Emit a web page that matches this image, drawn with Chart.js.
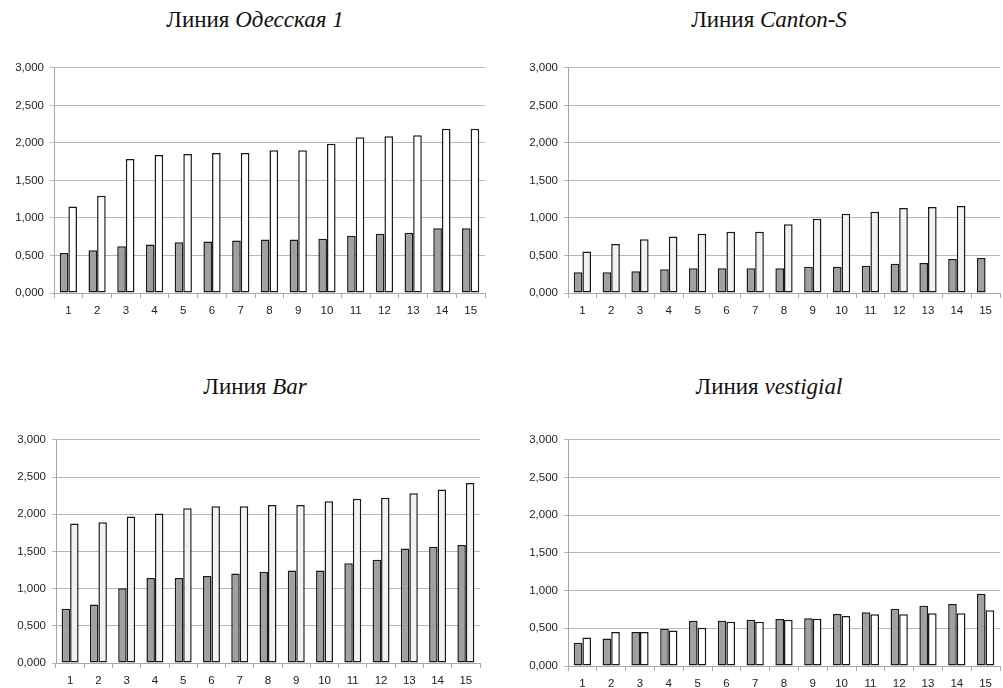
<!DOCTYPE html>
<html lang="ru">
<head>
  <meta charset="UTF-8">
  <title>Линии — четыре панели</title>
  <script src="https://cdn.jsdelivr.net/npm/chart.js"></script>
  <style>
    html, body { margin: 0; padding: 0; background: #fff; overflow: hidden; }
    #page { position: relative; width: 1003px; height: 688px; overflow: hidden; }
    .title {
      position: absolute; width: 500px; text-align: center;
      font-family: 'Liberation Serif', 'DejaVu Serif', serif;
      font-size: 23px; line-height: 26px; color: #111;
    }
    canvas { position: absolute; }
  </style>
</head>
<body>
<div id="page">
  <div class="title" style="left:5px; top:7px;">Линия <i>Одесская 1</i></div>
  <div class="title" style="left:519px; top:7px;">Линия <i>Canton-S</i></div>
  <div class="title" style="left:5px; top:374px;">Линия <i>Bar</i></div>
  <div class="title" style="left:519px; top:374px;">Линия <i>vestigial</i></div>

  <canvas id="c1" width="500" height="262" style="left:0px; top:55px;"></canvas>
  <canvas id="c2" width="489" height="262" style="left:514px; top:55px;"></canvas>
  <canvas id="c3" width="498" height="260" style="left:2px; top:427px;"></canvas>
  <canvas id="c4" width="489" height="263" style="left:514px; top:427px;"></canvas>
</div>

<script>
  // categories (x axis)
  const categories = ['1','2','3','4','5','6','7','8','9','10','11','12','13','14','15'];

  // Линия Одесская 1
  const odessaGrey  = [0.534, 0.569, 0.622, 0.648, 0.675, 0.688, 0.701, 0.714, 0.714, 0.723, 0.762, 0.788, 0.802, 0.863, 0.863];
  const odessaWhite = [1.152, 1.296, 1.787, 1.840, 1.853, 1.866, 1.866, 1.901, 1.901, 1.989, 2.076, 2.089, 2.102, 2.190, 2.190];

  // Линия Canton-S
  const cantonGrey  = [0.276, 0.276, 0.289, 0.316, 0.329, 0.329, 0.329, 0.329, 0.351, 0.351, 0.364, 0.390, 0.399, 0.452, 0.465];
  const cantonWhite = [0.553, 0.654, 0.715, 0.754, 0.789, 0.816, 0.816, 0.917, 0.991, 1.057, 1.083, 1.132, 1.145, 1.158, null];

  // Линия Bar
  const barGrey  = [0.728, 0.785, 1.006, 1.142, 1.142, 1.169, 1.204, 1.226, 1.244, 1.244, 1.341, 1.389, 1.540, 1.562, 1.588];
  const barWhite = [1.875, 1.892, 1.971, 2.011, 2.081, 2.107, 2.107, 2.125, 2.125, 2.174, 2.209, 2.222, 2.284, 2.333, 2.421];

  // Линия vestigial
  const vestGrey  = [0.309, 0.365, 0.452, 0.494, 0.600, 0.600, 0.613, 0.622, 0.635, 0.691, 0.713, 0.761, 0.800, 0.822, 0.957];
  const vestWhite = [0.378, 0.452, 0.452, 0.472, 0.506, 0.587, 0.587, 0.613, 0.626, 0.665, 0.687, 0.687, 0.700, 0.700, 0.739];

  // y axis ticks 0,000 ... 3,000
  const yMin = 0, yMax = 3, yStep = 0.5;

  const tickFont = { family: "'Liberation Sans', Arial, sans-serif", size: 11.5 };

  function makeChart(id, grey, white, whiteFill, padRight) {
    const ctx = document.getElementById(id).getContext('2d');
    return new Chart(ctx, {
      type: 'bar',
      data: {
        labels: categories,
        datasets: [
          { data: grey, backgroundColor: '#a0a0a0', borderColor: '#1a1a1a', borderWidth: 1.5, borderSkipped: false },
          { data: white, backgroundColor: whiteFill, borderColor: '#1a1a1a', borderWidth: 1.5, borderSkipped: false }
        ]
      },
      options: {
        responsive: false,
        animation: false,
        datasets: { bar: { categoryPercentage: 0.6, barPercentage: 1.0 } },
        layout: { padding: { top: 10, right: padRight, left: 0, bottom: 0 } },
        plugins: { legend: { display: false }, tooltip: { enabled: false } },
        scales: {
          x: {
            grid: { offset: true, drawOnChartArea: false, tickLength: 5, color: '#a8a8a8' },
            border: { color: '#a8a8a8' },
            ticks: { color: '#222', font: tickFont, padding: 6, maxRotation: 0, autoSkip: false },
            afterFit: (s) => { s.height = 24; }
          },
          y: {
            min: yMin, max: yMax,
            grid: { color: '#b8b8b8', tickLength: 4 },
            border: { color: '#a8a8a8' },
            ticks: {
              stepSize: yStep, color: '#222', font: tickFont, padding: 6,
              callback: (v) => Number(v).toFixed(3).replace('.', ',')
            },
            afterFit: (s) => { s.width = 54; }
          }
        }
      }
    });
  }

  makeChart('c1', odessaGrey, odessaWhite, '#ffffff', 15);
  makeChart('c2', cantonGrey, cantonWhite, '#f2f2f2', 3);
  makeChart('c3', barGrey, barWhite, '#f2f2f2', 20);
  makeChart('c4', vestGrey, vestWhite, '#ffffff', 3);
</script>
</body>
</html>
